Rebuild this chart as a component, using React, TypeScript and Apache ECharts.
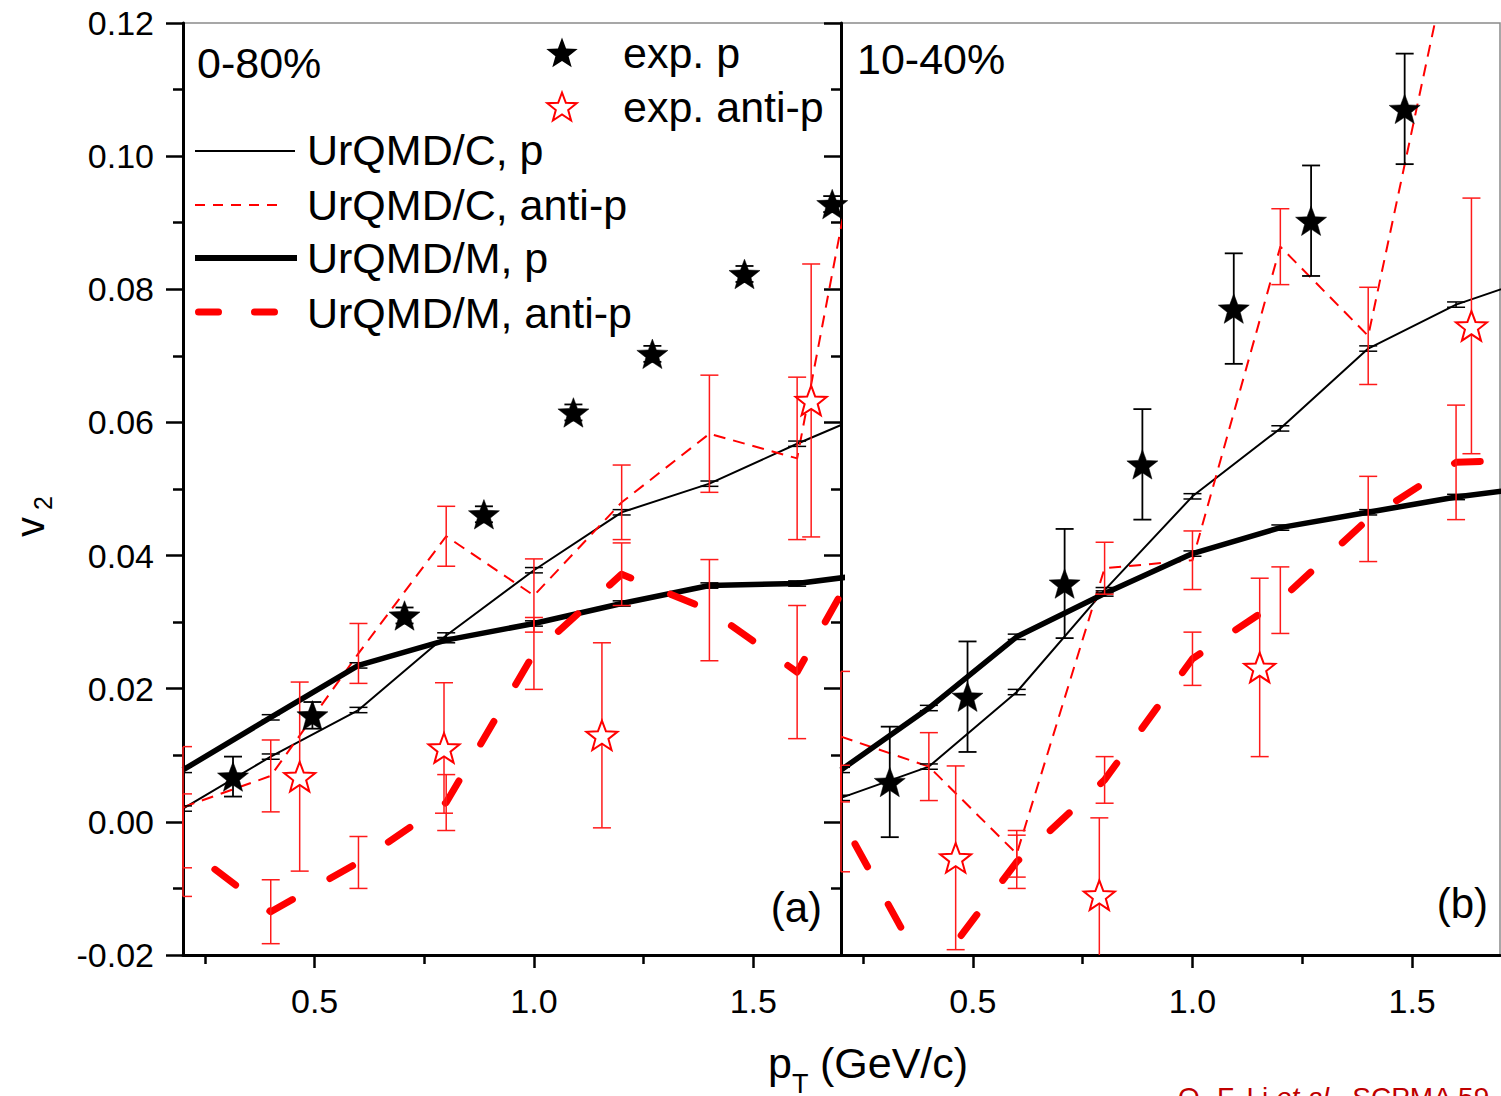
import React, { useEffect, useRef } from "react";
import * as echarts from "echarts";

// ---------- data ----------
const modelPt = [0.2, 0.4, 0.6, 0.8, 1.0, 1.2, 1.4, 1.6, 1.8];

// panel (a) 0-80%
const cpA = [0.0020, 0.0098, 0.0168, 0.0280, 0.0378, 0.0465, 0.0508, 0.0568, 0.0624];
const cpAErr = [0.0004, 0.0004, 0.0004, 0.0004, 0.0004, 0.0004, 0.0004, 0.0004, null];
const capA = [0.0022, 0.0069, 0.0253, 0.0429, 0.0340, 0.0480, 0.0583, 0.0546, 0.124];
const capAErr = [0.0091, 0.0054, 0.0045, 0.0045, 0.0055, 0.0056, 0.0088, 0.0122, null];
const mpA = [0.0078, 0.0157, 0.0235, 0.0273, 0.0298, 0.0328, 0.0355, 0.0358, 0.0375];
const mpAErr = [0.0004, 0.0004, 0.0004, 0.0004, 0.0004, 0.0004, 0.0004, 0.0004, null];
const mapA = [-0.0035, -0.0135, -0.0061, 0.0029, 0.0253, 0.0372, 0.0318, 0.0225, 0.046];
const mapAErr = [0.0077, 0.0048, 0.0039, 0.0042, 0.0054, 0.0047, 0.0076, 0.0100, null];

const expPxA = [0.314, 0.495, 0.705, 0.886, 1.09, 1.27, 1.48, 1.68];
const expPyA = [0.0068, 0.0160, 0.0310, 0.0462, 0.0615, 0.0703, 0.0823, 0.0928];
const expPeA = [0.003, 0.002, 0.0012, 0.0012, 0.0012, 0.0012, 0.0012, 0.0012];
const expAxA = [0.466, 0.795, 1.155, 1.632];
const expAyA = [0.0068, 0.0111, 0.0130, 0.0633];
const expAeA = [0.0142, 0.0098, 0.0139, 0.0205];

// panel (b) 10-40%
const cpB = [0.0036, 0.0083, 0.0195, 0.0348, 0.0489, 0.0591, 0.0711, 0.0777, 0.0822];
const cpBErr = [0.0004, 0.0004, 0.0004, 0.0004, 0.0004, 0.0004, 0.0004, 0.0004, null];
const capB = [0.0128, 0.0083, -0.0048, 0.0381, 0.0393, 0.0864, 0.0730, 0.135, 0.17];
const capBErr = [0.0098, 0.0051, 0.0035, 0.0039, 0.0044, 0.0057, 0.0073, null, null];
const mpB = [0.0078, 0.0171, 0.0278, 0.0343, 0.0403, 0.0442, 0.0465, 0.0488, 0.0505];
const mpBErr = [0.0004, 0.0004, 0.0004, 0.0004, 0.0004, 0.0004, 0.0004, 0.0004, null];
const mapB = [0.0005, -0.0235, -0.0060, 0.0063, 0.0245, 0.0333, 0.0455, 0.0540, 0.0545];
const mapBErr = [0.0080, 0.0030, 0.0040, 0.0035, 0.0040, 0.0050, 0.0064, 0.0086, null];

const expPxB = [0.311, 0.488, 0.709, 0.886, 1.094, 1.27, 1.483];
const expPyB = [0.0060, 0.0188, 0.0358, 0.0537, 0.0771, 0.0903, 0.1071];
const expPeB = [0.0083, 0.0083, 0.0082, 0.0083, 0.0083, 0.0083, 0.0083];
const expAxB = [0.461, 0.788, 1.153, 1.635];
const expAyB = [-0.0054, -0.0110, 0.0232, 0.0745];
const expAeB = [0.0138, 0.0116, 0.0134, 0.0192];

const xMajorTicks = [0.5, 1.0, 1.5];
const xMinorTicks = [0.25, 0.75, 1.25];

const panelLabels = ["0-80%", "10-40%"];
const panelTags = ["(a)", "(b)"];
const legendNames = ["exp. p", "exp. anti-p", "UrQMD/C, p", "UrQMD/C, anti-p", "UrQMD/M, p", "UrQMD/M, anti-p"];

// ---------- helpers ----------
const FONT = '"Liberation Sans", Arial, Helvetica, sans-serif';
const RED = "#ff0000";

function starPoints(R: number, ratio: number, cx = 0, cy = 0): number[][] {
  const pts: number[][] = [];
  for (let i = 0; i < 10; i++) {
    const r = i % 2 ? R * ratio : R;
    const a = -Math.PI / 2 + (i * Math.PI) / 5;
    pts.push([cx + r * Math.cos(a), cy + r * Math.sin(a)]);
  }
  return pts;
}
const STAR_PATH =
  "path://M" + starPoints(10, 0.42).map((p) => p[0].toFixed(3) + " " + p[1].toFixed(3)).join(" L") + " Z";

function zip(xs: number[], ys: number[]) {
  return xs.map((x, i) => [x, ys[i]]);
}
function zip3(xs: number[], ys: number[], es: (number | null)[]) {
  const out: number[][] = [];
  xs.forEach((x, i) => {
    if (es[i] != null) out.push([x, ys[i], es[i] as number]);
  });
  return out;
}

function lineSeries(ax: number, xs: number[], ys: number[], color: string, width: number, dash?: number[], offset = 0, round = false) {
  return {
    type: "line",
    xAxisIndex: ax * 2,
    yAxisIndex: ax,
    data: zip(xs, ys),
    symbol: "none",
    silent: true,
    clip: true,
    z: 2,
    lineStyle: {
      color,
      width,
      opacity: 1,
      type: dash ? dash : "solid",
      dashOffset: offset,
      cap: round ? "round" : "butt",
      join: "round",
    },
  };
}

function errSeries(ax: number, xs: number[], ys: number[], es: (number | null)[], color: string, lw: number, capW: number) {
  return {
    type: "custom",
    xAxisIndex: ax * 2,
    yAxisIndex: ax,
    silent: true,
    z: 3,
    data: zip3(xs, ys, es),
    encode: { x: 0, y: 1 },
    renderItem: (params: any, api: any) => {
      const x = api.value(0);
      const y = api.value(1);
      const e = api.value(2);
      const cs = params.coordSys;
      const top = api.coord([x, y + e]);
      const bot = api.coord([x, y - e]);
      const px = top[0];
      const xmin = cs.x, xmax = cs.x + cs.width, ymin = cs.y, ymax = cs.y + cs.height;
      if (px < xmin - 1 || px > xmax + 1) return null;
      const y1 = Math.max(top[1], ymin);
      const y2 = Math.min(bot[1], ymax);
      if (y1 >= y2) return null;
      const style = { stroke: color, lineWidth: lw, fill: null };
      const cx1 = Math.max(px - capW / 2, xmin);
      const cx2 = Math.min(px + capW / 2, xmax);
      const children: any[] = [{ type: "line", shape: { x1: px, y1, x2: px, y2 }, style }];
      if (top[1] >= ymin) children.push({ type: "line", shape: { x1: cx1, y1: top[1], x2: cx2, y2: top[1] }, style });
      if (bot[1] <= ymax) children.push({ type: "line", shape: { x1: cx1, y1: bot[1], x2: cx2, y2: bot[1] }, style });
      return { type: "group", children };
    },
  };
}

function starSeries(ax: number, xs: number[], ys: number[], filled: boolean) {
  return {
    type: "scatter",
    xAxisIndex: ax * 2,
    yAxisIndex: ax,
    data: zip(xs, ys),
    symbol: STAR_PATH,
    symbolSize: 31,
    symbolKeepAspect: true,
    silent: true,
    z: 4,
    itemStyle: filled
      ? { color: "#000", borderColor: "#000", borderWidth: 0.5, opacity: 1 }
      : { color: "#fff", borderColor: RED, borderWidth: 2, opacity: 1 },
  };
}

function xAxes(gridIndex: number) {
  const base = { type: "value", gridIndex, min: 0.2, max: 1.7, position: "bottom", splitLine: { show: false } };
  return [
    {
      ...base,
      axisLine: { show: true, onZero: false, lineStyle: { color: "#000", width: 3 } },
      axisTick: { show: true, customValues: xMajorTicks, length: 13, lineStyle: { color: "#000", width: 2.5 } },
      axisLabel: {
        show: true,
        customValues: xMajorTicks,
        formatter: (v: number) => v.toFixed(1),
        margin: 29,
        fontSize: 34,
        fontFamily: FONT,
        color: "#000",
      },
    },
    {
      ...base,
      axisLine: { show: false, onZero: false },
      axisTick: { show: true, customValues: xMinorTicks, length: 9, lineStyle: { color: "#000", width: 2.5 } },
      axisLabel: { show: false },
    },
  ];
}

function yAxis(gridIndex: number, labels: boolean) {
  return {
    type: "value",
    gridIndex,
    min: -0.02,
    max: 0.12,
    interval: 0.02,
    position: "left",
    splitLine: { show: false },
    minorSplitLine: { show: false },
    axisLine: { show: true, onZero: false, lineStyle: { color: "#000", width: 3 } },
    axisTick: { show: true, length: 17, lineStyle: { color: "#000", width: 2.5 } },
    minorTick: { show: true, splitNumber: 2, length: 10, lineStyle: { color: "#000", width: 2.5 } },
    axisLabel: {
      show: labels,
      formatter: (v: number) => v.toFixed(2),
      margin: 29,
      fontSize: 34,
      fontFamily: FONT,
      color: "#000",
    },
  };
}

function txt(x: number, y: number, text: string, size: number, opts: any = {}) {
  return {
    type: "text",
    x,
    y,
    silent: true,
    z: 10,
    style: {
      text,
      fill: opts.fill || "#000",
      font: `${opts.italic ? "italic " : ""}${size}px ${FONT}`,
      align: opts.align || "left",
      verticalAlign: opts.va || "middle",
    },
  };
}

function buildOption() {
  const series: any[] = [];
  const panels = [
    { cp: cpA, cpE: cpAErr, cap: capA, capE: capAErr, mp: mpA, mpE: mpAErr, map: mapA, mapE: mapAErr,
      px: expPxA, py: expPyA, pe: expPeA, ax: expAxA, ay: expAyA, ae: expAeA, off: 28.5 },
    { cp: cpB, cpE: cpBErr, cap: capB, capE: capBErr, mp: mpB, mpE: mpBErr, map: mapB, mapE: mapBErr,
      px: expPxB, py: expPyB, pe: expPeB, ax: expAxB, ay: expAyB, ae: expAeB, off: 39.5 },
  ];
  panels.forEach((p, k) => {
    series.push(lineSeries(k, modelPt, p.cp, "#000", 2));
    series.push(lineSeries(k, modelPt, p.cap, RED, 2, [12, 8]));
    series.push(lineSeries(k, modelPt, p.mp, "#000", 5.5));
    series.push(lineSeries(k, modelPt, p.map, RED, 7, [26, 43], p.off, true));
    series.push(errSeries(k, modelPt, p.cp, p.cpE, "#000", 1.5, 18));
    series.push(errSeries(k, modelPt, p.mp, p.mpE, "#000", 1.5, 18));
    series.push(errSeries(k, modelPt, p.cap, p.capE, "#ff1a1a", 1.5, 18));
    series.push(errSeries(k, modelPt, p.map, p.mapE, "#ff1a1a", 1.5, 18));
    series.push(errSeries(k, p.px, p.py, p.pe, "#000", 1.8, 18));
    series.push(errSeries(k, p.ax, p.ay, p.ae, "#ff1a1a", 1.5, 18));
    series.push(starSeries(k, p.px, p.py, true));
    series.push(starSeries(k, p.ax, p.ay, false));
  });

  const starFilled = starPoints(16.5, 0.42, 562, 54);
  const starOpen = starPoints(15.5, 0.42, 562, 108);

  const graphic: any[] = [
    txt(197, 63, panelLabels[0], 43),
    txt(857, 59, panelLabels[1], 43),
    txt(822, 907, panelTags[0], 42, { align: "right" }),
    txt(1488, 903, panelTags[1], 42, { align: "right" }),
    // legend: experimental
    { type: "polygon", z: 10, silent: true, shape: { points: starFilled }, style: { fill: "#000" } },
    txt(623, 53, legendNames[0], 43),
    { type: "polygon", z: 10, silent: true, shape: { points: starOpen }, style: { fill: "#fff", stroke: RED, lineWidth: 2 } },
    txt(623, 107, legendNames[1], 43),
    // legend: models
    { type: "line", z: 10, silent: true, shape: { x1: 195, y1: 151, x2: 295, y2: 151 }, style: { stroke: "#000", lineWidth: 2 } },
    txt(307, 150, legendNames[2], 43),
    { type: "line", z: 10, silent: true, shape: { x1: 195, y1: 205, x2: 277, y2: 205 }, style: { stroke: RED, lineWidth: 2, lineDash: [10, 8] } },
    txt(307, 205, legendNames[3], 43),
    { type: "line", z: 10, silent: true, shape: { x1: 195, y1: 258, x2: 297, y2: 258 }, style: { stroke: "#000", lineWidth: 6 } },
    txt(307, 258, legendNames[4], 43),
    { type: "line", z: 10, silent: true, shape: { x1: 198.5, y1: 312, x2: 277, y2: 312 }, style: { stroke: RED, lineWidth: 7, lineDash: [20, 36], lineCap: "round" } },
    txt(307, 313, legendNames[5], 43),
    // axis titles
    txt(768, 1063, "p", 43),
    txt(792, 1084, "T", 27),
    txt(808, 1063, " (GeV/c)", 43),
    {
      type: "group",
      x: 30,
      y: 527,
      rotation: Math.PI / 2,
      silent: true,
      children: [
        { type: "text", x: 0, y: 0, style: { text: "v", font: `40px ${FONT}`, fill: "#000", align: "center", verticalAlign: "middle" } },
        { type: "text", x: 17, y: 13, style: { text: "2", font: `25px ${FONT}`, fill: "#000", align: "left", verticalAlign: "middle" } },
      ],
    },
    // citation (cut by the page edge as in the source)
    {
      type: "text",
      x: 1178,
      y: 1097,
      silent: true,
      style: {
        rich: {
          n: { fontSize: 28, fontFamily: FONT, fill: "#c00000" },
          i: { fontSize: 28, fontFamily: FONT, fontStyle: "italic", fill: "#c00000" },
        },
        text: "{n|Q.-F. Li }{i|et al.}{n|, SCPMA 59}",
        verticalAlign: "middle",
        align: "left",
      },
    },
  ];

  return {
    animation: false,
    backgroundColor: "#fff",
    textStyle: { fontFamily: FONT },
    grid: [
      { left: 183, top: 23, width: 658, height: 932, show: true, borderColor: "#8a8a8a", borderWidth: 1.5, backgroundColor: "transparent" },
      { left: 841, top: 23, width: 659, height: 932, show: true, borderColor: "#8a8a8a", borderWidth: 1.5, backgroundColor: "transparent" },
    ],
    xAxis: [...xAxes(0), ...xAxes(1)],
    yAxis: [yAxis(0, true), yAxis(1, false)],
    series,
    graphic,
  };
}

export default function App() {
  const ref = useRef<HTMLDivElement>(null);
  useEffect(() => {
    if (!ref.current) return;
    const chart = echarts.init(ref.current, null, { renderer: "svg", width: 1501, height: 1096 });
    chart.setOption(buildOption() as any);
    return () => chart.dispose();
  }, []);
  return (
    <div
      ref={ref}
      style={{ position: "absolute", left: 0, top: 0, width: 1501, height: 1096, background: "#fff", overflow: "hidden" }}
    />
  );
}
